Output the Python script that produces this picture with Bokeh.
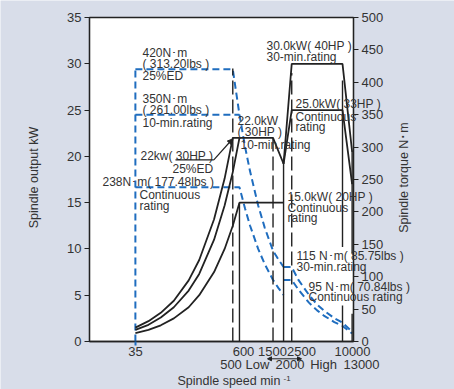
import math
from bokeh.plotting import figure
from bokeh.models import Range1d, LinearAxis, Label, Arrow, NormalHead, FixedTicker
from bokeh.embed import file_html
from bokeh.resources import INLINE

# ---------------- data ----------------
# speeds marked on the x axis (min-1)
x_marks = [35, 500, 600, 1500, 2000, 2500, 10000, 13000]
tick_row1 = ["35", "600", "1500", "2500", "10000"]
tick_row2 = ["500", "Low", "2000", "High", "13000"]

# Spindle output (kW) - low-speed winding
out_25ed_speed = [35, 50, 70, 100, 150, 200, 300, 400, 500, 1500, 2000]
out_25ed_kw = [1.5, 2.2, 3.1, 4.4, 6.6, 8.8, 13.2, 17.6, 22.0, 22.0, 19.2]
out_10min_speed = [35, 50, 70, 100, 150, 200, 300, 400, 500, 600]
out_10min_kw = [1.25, 1.8, 2.6, 3.7, 5.5, 7.3, 11.0, 14.7, 18.3, 22.0]
out_cont_speed = [35, 50, 70, 100, 150, 200, 300, 400, 500, 600, 2000]
out_cont_kw = [0.9, 1.25, 1.75, 2.5, 3.7, 5.0, 7.5, 10.0, 12.5, 15.0, 15.0]
# Spindle output (kW) - high-speed winding
out_hi30_speed = [2000, 2500, 10000, 13000]
out_hi30_kw = [19.2, 30.0, 30.0, 20.5]
out_hicont_speed = [2000, 2500, 10000, 13000]
out_hicont_kw = [19.2, 25.0, 25.0, 17.0]

# Spindle torque (N.m)
tq_frame_speed = [35, 35]
tq_frame_nm = [0, 420]
tq_25ed_speed = [35, 500, 600, 700, 800, 1000, 1200, 1500, 1750, 2000]
tq_25ed_nm = [420, 420, 350, 300, 263, 210, 175, 140, 126, 115]
tq_10min_speed = [35, 600]
tq_10min_nm = [350, 350]
tq_cont_speed = [35, 600, 700, 800, 1000, 1200, 1500, 1750, 2000]
tq_cont_nm = [238, 238, 205, 179, 143, 119, 95, 82, 72]
tq_hi30_speed = [2000, 2500, 3000, 4000, 5000, 6000, 8000, 10000, 13000]
tq_hi30_nm = [115, 115, 95, 72, 57, 48, 36, 29, 15]
tq_hicont_speed = [2000, 2500, 3000, 4000, 5000, 6000, 8000, 10000, 13000]
tq_hicont_nm = [95, 95, 80, 60, 48, 40, 30, 24, 12.5]

# vertical marker lines: (speed, kW from, kW to)
dashed_vlines = [(500, 0, 29.5), (1500, 0, 22.0), (2500, 0, 29.0)]
solid_vlines = [(600, 0, 15.0), (2000, 0, 19.2), (10000, 0, 3.9), (10000, 10.2, 28.2),
                (13000, 0, 3.0), (13000, 9.5, 20.6)]

# axis extents
X0, X1 = 10, 13500      # speed axis
Y1 = 35                 # output axis (kW)
T1 = 500                # torque axis (N.m)

# ---------------- styling / layout ----------------
BG = "#d8dde9"
INK = "#222222"
TXT = "#333333"
BLUE = "#1f6dbf"
FONT = "Liberation Sans"
DOT = "\uff65"
W, H = 454, 389
OFF = 0
# plot box in picture pixels
FL, FR, FT, FB = 89, 353, 17, 341


def dx(px):
    return 10 ** (math.log10(X0) + (px - FL) / (FR - FL) * (math.log10(X1) - math.log10(X0)))


def dy(py):
    return (FB - py) / (FB - FT) * Y1


ylo, yhi = dy(OFF + H), dy(OFF)
p = figure(width=W, height=H, x_axis_type="log",
           x_range=Range1d(dx(OFF), dx(OFF + W)), y_range=Range1d(ylo, yhi),
           output_backend="svg", toolbar_location=None, min_border=0,
           min_border_left=0, min_border_right=0, min_border_top=0, min_border_bottom=0)
p.extra_y_ranges = {"torque": Range1d(ylo * T1 / Y1, yhi * T1 / Y1)}
p.background_fill_color = BG
p.border_fill_color = BG
p.outline_line_color = None
p.grid.visible = False

# white plotting box
p.quad(left=[X0], right=[X1], bottom=[0], top=[Y1], fill_color="white",
       line_color=INK, line_width=1.3)

# axes (drawn at fixed places around the box)
ya = p.yaxis[0]
ya.fixed_location = X0
ya.bounds = (0, Y1)
ya.ticker = FixedTicker(ticks=list(range(0, 36, 5)))
ax_r = LinearAxis(y_range_name="torque", fixed_location=X1, bounds=(0, T1),
                  ticker=FixedTicker(ticks=list(range(0, 501, 50))))
p.add_layout(ax_r, "right")
for ax in (ya, ax_r):
    ax.axis_line_color = INK
    ax.axis_line_width = 1.3
    ax.major_tick_line_color = INK
    ax.major_tick_line_width = 1.2
    ax.major_tick_in = 0
    ax.major_tick_out = 5
    ax.minor_tick_line_color = None
    ax.major_label_text_font = FONT
    ax.major_label_text_font_size = "13px"
    ax.major_label_text_color = TXT
    ax.major_label_standoff = 3

xa = p.xaxis[0]
xa.fixed_location = 0
xa.bounds = (X0, X1)
xa.ticker = FixedTicker(ticks=[35])
xa.axis_line_color = INK
xa.axis_line_width = 1.3
xa.major_tick_line_color = BLUE
xa.major_tick_line_width = 2
xa.major_tick_in = 0
xa.major_tick_out = 4
xa.minor_tick_line_color = None
xa.major_label_text_color = None
xa.major_label_text_font_size = "1px"

# torque curves (blue dashed)
bl = dict(line_color=BLUE, line_width=2, line_dash="7 4", y_range_name="torque")
p.line(tq_frame_speed, tq_frame_nm, **bl)
p.line(tq_25ed_speed, tq_25ed_nm, **bl)
p.line(tq_10min_speed, tq_10min_nm, **bl)
p.line(tq_cont_speed, tq_cont_nm, **bl)
p.line(tq_hi30_speed, tq_hi30_nm, **bl)
p.line(tq_hicont_speed, tq_hicont_nm, **bl)

# vertical marker lines
for s, a, b in dashed_vlines:
    p.line([s, s], [a, b], line_color=INK, line_width=1.4, line_dash="14 5")
for s, a, b in solid_vlines:
    p.line([s, s], [a, b], line_color=INK, line_width=1.4)

# output curves (black)
kl = dict(line_color=INK, line_width=1.8)
p.line(out_25ed_speed, out_25ed_kw, **kl)
p.line(out_10min_speed, out_10min_kw, **kl)
p.line(out_cont_speed, out_cont_kw, **kl)
p.line(out_hi30_speed, out_hi30_kw, **kl)
p.line(out_hicont_speed, out_hicont_kw, **kl)


def lab(text, px, py, align="left", size="12px", angle=0.0, color=TXT):
    p.add_layout(Label(x=dx(px), y=dy(py), text=text, text_align=align,
                       text_baseline="middle", text_font=FONT, text_font_size=size,
                       text_color=color, angle=angle))


notes = [
    (f"420N{DOT}m", 142, 52.5), ("( 313.20lbs )", 142, 63.5), ("25%ED", 142, 75),
    (f"350N{DOT}m", 142, 98.5), ("( 261.00lbs )", 142, 109), ("10-min.rating", 142, 122.7),
    ("22.0kW", 237, 120), ("( 30HP )", 237, 131.7), ("10-min.rating", 240, 144),
    ("22kw( 30HP )", 140, 155), ("25%ED", 172, 168.3),
    (f"238N{DOT}m( 177.48lbs )", 102, 181.7), ("Continuous", 139, 194), ("rating", 139, 205),
    ("30.0kW( 40HP )", 266, 45), ("30-min.rating", 266, 56.7),
    ("25.0kW( 33HP )", 295, 103.3), ("Continuous", 295, 116), ("rating", 295, 126.5),
    ("15.0kW( 20HP )", 287, 196), ("Continuous", 287, 207.7), ("rating", 287, 217.3),
    (f"115 N{DOT}m( 85.75lbs )", 296, 255.7), ("30-min.rating", 296, 266.7),
    (f"95 N{DOT}m( 70.84lbs )", 308, 286.7), ("Continuous rating", 308, 296),
]
for t, x, y in notes:
    lab(t, x, y)

# pointer for "22kw( 30HP )"
p.add_layout(Arrow(x_start=dx(175), y_start=dy(159.3), x_end=dx(213.3), y_end=dy(159.3),
                   end=None, line_color=INK, line_width=1.2))
p.add_layout(Arrow(x_start=dx(213.3), y_start=dy(159.3), x_end=dx(232), y_end=dy(138.5),
                   end=NormalHead(size=5, line_color=INK, fill_color=INK),
                   line_color=INK, line_width=1.2))

# x tick labels (two rows)
row1_px = [135, 243, 272, 301, 352]
row2_px = [230.5, 257, 289.5, 323, 361]
for t, x in zip(tick_row1, row1_px):
    lab(t, x, 350.7, align="center", size="13px")
for t, x in zip(tick_row2, row2_px):
    lab(t, x, 364, align="center", size="13px")
p.add_layout(Arrow(x_start=dx(301), y_start=dy(358.3), x_end=dx(267), y_end=dy(358.3),
                   start=NormalHead(size=4, line_color=INK, fill_color=INK),
                   end=NormalHead(size=4, line_color=INK, fill_color=INK),
                   line_color=INK, line_width=1))

# axis titles
lab("Spindle speed min", 177, 380.5, size="12.5px")
lab("-1", 283, 377.5, size="8px")
lab("Spindle output kW", 33, 177, align="center", size="12.5px", angle=math.pi / 2)
lab(f"Spindle torque N{DOT}m", 403, 177, align="center", size="12.5px", angle=math.pi / 2)

open("out.html", "w").write(file_html(p, INLINE))
